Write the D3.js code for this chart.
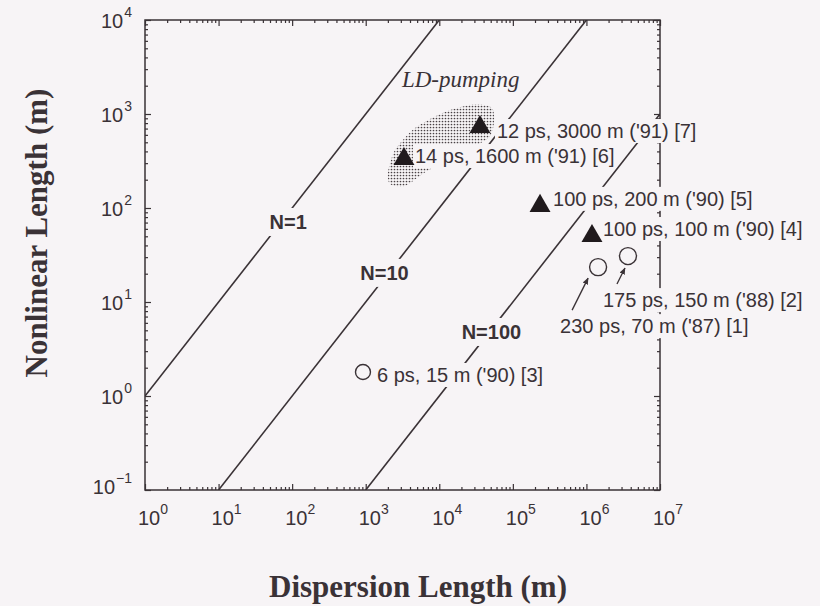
<!DOCTYPE html>
<html>
<head>
<meta charset="utf-8">
<script src="https://cdn.jsdelivr.net/npm/d3@7"></script>
<style>
  body { margin: 0; background: #f7f4f6; }
  svg { display: block; }
  .sans { font-family: "Liberation Sans", Arial, Helvetica, sans-serif; }
  .serif { font-family: "Liberation Serif", "Times New Roman", serif; }
</style>
</head>
<body>
<div id="chart"></div>
<script>
  // axis decades (exponents of ten)
  var xExponents = [0, 1, 2, 3, 4, 5, 6, 7];
  var yExponents = [-1, 0, 1, 2, 3, 4];

  // soliton order lines: L_NL = L_D / N^2
  var solitonOrders = [1, 10, 100];
  var solitonLabels = ["N=1", "N=10", "N=100"];
  var solitonLabelLD = [71, 2040, 48000];

  // experiments
  var refs = [7, 6, 5, 4, 2, 1, 3];
  var dispersionLen = [35700, 3310, 234000, 1190000, 3670000, 1440000, 918];
  var nonlinearLen = [745, 340, 108, 51.6, 30.8, 23.5, 1.8];
  var markerShape = ["triangle", "triangle", "triangle", "triangle", "circle", "circle", "circle"];
  var pointLabels = [
      "12 ps, 3000 m ('91) [7]",
      "14 ps, 1600 m ('91) [6]",
      "100 ps, 200 m ('90) [5]",
      "100 ps, 100 m ('90) [4]",
      "175 ps, 150 m ('88) [2]",
      "230 ps, 70 m ('87) [1]",
      "6 ps, 15 m ('90) [3]"
  ];

  // LD-pumping area outline (L_D, L_NL)
  var regionLD = [2010, 2500, 4680, 11970, 30600, 52100, 55500, 47000, 20000, 7000, 3420, 2140];
  var regionNL = [242, 414, 710, 1050, 1276, 1160, 822, 560, 380, 250, 171, 180];
  var regionLabel = "LD-pumping";
  var regionLabelAt = [3110, 1936];

  // label placement (pixels, relative to the marker)
  var labelOffset = {
      7: [17, 12], 6: [11, 5], 5: [13, 1], 4: [11, 1],
      2: [-25, 51], 1: [-38, 66], 3: [14, 10]
  };
  var arrowOffset = {
      2: [[-11, 28], [-3, 12]],
      1: [[-26, 43], [-10, 11]]
  };
  var solitonLabelDx = [7, -4, 2];

  var ink = "#3a3236",
      paper = "#f7f4f6";

  var svg = d3.select("#chart")
      .append("svg")
      .attr("width", 820)
      .attr("height", 606);

  var x = d3.scaleLog().domain([1, 1e7]).range([145, 660]);
  var y = d3.scaleLog().domain([0.1, 1e4]).range([490, 20]);

  var defs = svg.append("defs");
  var pat = defs.append("pattern")
      .attr("id", "dots")
      .attr("patternUnits", "userSpaceOnUse")
      .attr("width", 3)
      .attr("height", 3);
  pat.append("circle")
      .attr("cx", 1.5).attr("cy", 1.5).attr("r", 0.85)
      .attr("fill", "#4a4246");

  defs.append("marker")
      .attr("id", "arrow")
      .attr("viewBox", "0 0 10 10")
      .attr("refX", 9).attr("refY", 5)
      .attr("markerWidth", 7).attr("markerHeight", 7)
      .attr("markerUnits", "userSpaceOnUse")
      .attr("orient", "auto")
      .append("path")
      .attr("d", "M0,1 L10,5 L0,9 z")
      .attr("fill", ink);

  defs.append("clipPath").attr("id", "plotclip")
      .append("rect")
      .attr("x", 145).attr("y", 20).attr("width", 515).attr("height", 470);

  // stippled LD-pumping region
  var regionPts = regionLD.map(function (d, i) { return [x(d), y(regionNL[i])]; });
  svg.append("path")
      .attr("d", d3.line().curve(d3.curveCardinalClosed.tension(0.3))(regionPts))
      .attr("fill", "url(#dots)");

  // soliton order lines
  var lines = svg.append("g").attr("clip-path", "url(#plotclip)");
  solitonOrders.forEach(function (n) {
      var n2 = n * n;
      var ld0 = Math.max(1, 0.1 * n2),
          ld1 = Math.min(1e7, 1e4 * n2);
      lines.append("line")
          .attr("x1", x(ld0)).attr("y1", y(ld0 / n2))
          .attr("x2", x(ld1)).attr("y2", y(ld1 / n2))
          .attr("stroke", ink)
          .attr("stroke-width", 1.6);
  });

  // frame
  svg.append("rect")
      .attr("x", 145).attr("y", 20).attr("width", 515).attr("height", 470)
      .attr("fill", "none")
      .attr("stroke", ink)
      .attr("stroke-width", 1.5);

  // ticks, pointing inward on all four sides
  var majorX = xExponents.map(function (e) { return Math.pow(10, e); });
  var majorY = yExponents.map(function (e) { return Math.pow(10, e); });
  function minorOf(majors) {
      var m = [];
      majors.slice(0, -1).forEach(function (d) {
          for (var k = 2; k < 10; k++) m.push(d * k);
      });
      return m;
  }
  var minorX = minorOf(majorX), minorY = minorOf(majorY);

  function tickAxis(axisFn, scale, values, size, transform) {
      var g = svg.append("g")
          .attr("transform", transform)
          .call(axisFn(scale).tickValues(values).tickSizeInner(-size).tickSizeOuter(0).tickFormat(""));
      g.select(".domain").remove();
      g.selectAll(".tick line").attr("stroke", ink).attr("stroke-width", 1.2);
  }
  tickAxis(d3.axisBottom, x, majorX, 6, "translate(0,490)");
  tickAxis(d3.axisBottom, x, minorX, 3, "translate(0,490)");
  tickAxis(d3.axisTop, x, majorX, 6, "translate(0,20)");
  tickAxis(d3.axisTop, x, minorX, 3, "translate(0,20)");
  tickAxis(d3.axisLeft, y, majorY, 6, "translate(145,0)");
  tickAxis(d3.axisLeft, y, minorY, 3, "translate(145,0)");
  tickAxis(d3.axisRight, y, majorY, 6, "translate(660,0)");
  tickAxis(d3.axisRight, y, minorY, 3, "translate(660,0)");

  // label with paper-coloured background that hides lines behind it
  function maskedText(parent, tx, ty, str, cls, anchor, pad, weight) {
      var g = parent.append("g");
      var t = g.append("text")
          .attr("class", cls)
          .attr("x", tx).attr("y", ty)
          .attr("text-anchor", anchor)
          .attr("font-size", 20)
          .attr("font-weight", weight || "normal")
          .attr("fill", ink)
          .text(str);
      var b = t.node().getBBox();
      g.insert("rect", "text")
          .attr("x", b.x - pad).attr("y", b.y - pad + 1)
          .attr("width", b.width + 2 * pad).attr("height", b.height + 2 * pad - 2)
          .attr("fill", paper);
      return g;
  }

  var labelLayer = svg.append("g");

  solitonOrders.forEach(function (n, i) {
      var ld = solitonLabelLD[i];
      maskedText(labelLayer, x(ld) + solitonLabelDx[i], y(ld / (n * n)) + 7,
          solitonLabels[i], "sans", "middle", 4, "bold");
  });

  refs.forEach(function (r, i) {
      var px = x(dispersionLen[i]), py = y(nonlinearLen[i]);
      maskedText(labelLayer, px + labelOffset[r][0], py + labelOffset[r][1],
          pointLabels[i], "sans", "start", 2);
  });

  svg.append("text")
      .attr("class", "serif")
      .attr("x", x(regionLabelAt[0]))
      .attr("y", y(regionLabelAt[1]))
      .attr("font-size", 23)
      .attr("font-style", "italic")
      .attr("fill", ink)
      .text(regionLabel);

  // markers
  refs.forEach(function (r, i) {
      var px = x(dispersionLen[i]), py = y(nonlinearLen[i]);
      if (markerShape[i] == "triangle") {
          svg.append("path")
              .attr("d", d3.symbol().type(d3.symbolTriangle).size(190)())
              .attr("transform", "translate(" + px + "," + (py + 1) + ")")
              .attr("fill", "#201a1d");
      } else {
          svg.append("circle")
              .attr("cx", px).attr("cy", py).attr("r", r == 3 ? 7.5 : 8.5)
              .attr("fill", paper)
              .attr("stroke", ink)
              .attr("stroke-width", 1.4);
      }
      if (arrowOffset[r]) {
          var a = arrowOffset[r];
          svg.append("line")
              .attr("x1", px + a[0][0]).attr("y1", py + a[0][1])
              .attr("x2", px + a[1][0]).attr("y2", py + a[1][1])
              .attr("stroke", ink)
              .attr("stroke-width", 1.3)
              .attr("marker-end", "url(#arrow)");
      }
  });

  // tick labels
  xExponents.forEach(function (e) {
      var t = svg.append("text")
          .attr("class", "sans")
          .attr("x", x(Math.pow(10, e)) - 7)
          .attr("y", 525)
          .attr("font-size", 20)
          .attr("fill", ink);
      t.append("tspan").text("10");
      t.append("tspan").attr("dx", 0).attr("dy", -11).attr("font-size", 14).text(e);
  });
  yExponents.forEach(function (e) {
      var t = svg.append("text")
          .attr("class", "sans")
          .attr("x", 132)
          .attr("y", y(Math.pow(10, e)) + (e < 0 ? 4 : 8))
          .attr("text-anchor", "end")
          .attr("font-size", 20)
          .attr("fill", ink);
      t.append("tspan").text("10");
      t.append("tspan").attr("dx", 1).attr("dy", -11).attr("font-size", 14)
          .text(e < 0 ? "\u2212" + (-e) : e);
  });

  // axis titles
  svg.append("text")
      .attr("class", "serif")
      .attr("x", 418).attr("y", 597)
      .attr("text-anchor", "middle")
      .attr("font-size", 31)
      .attr("font-weight", "bold")
      .attr("fill", ink)
      .text("Dispersion Length (m)");

  svg.append("text")
      .attr("class", "serif")
      .attr("transform", "translate(47,233) rotate(-90)")
      .attr("text-anchor", "middle")
      .attr("font-size", 31)
      .attr("font-weight", "bold")
      .attr("fill", ink)
      .text("Nonlinear Length (m)");
</script>
</body>
</html>
